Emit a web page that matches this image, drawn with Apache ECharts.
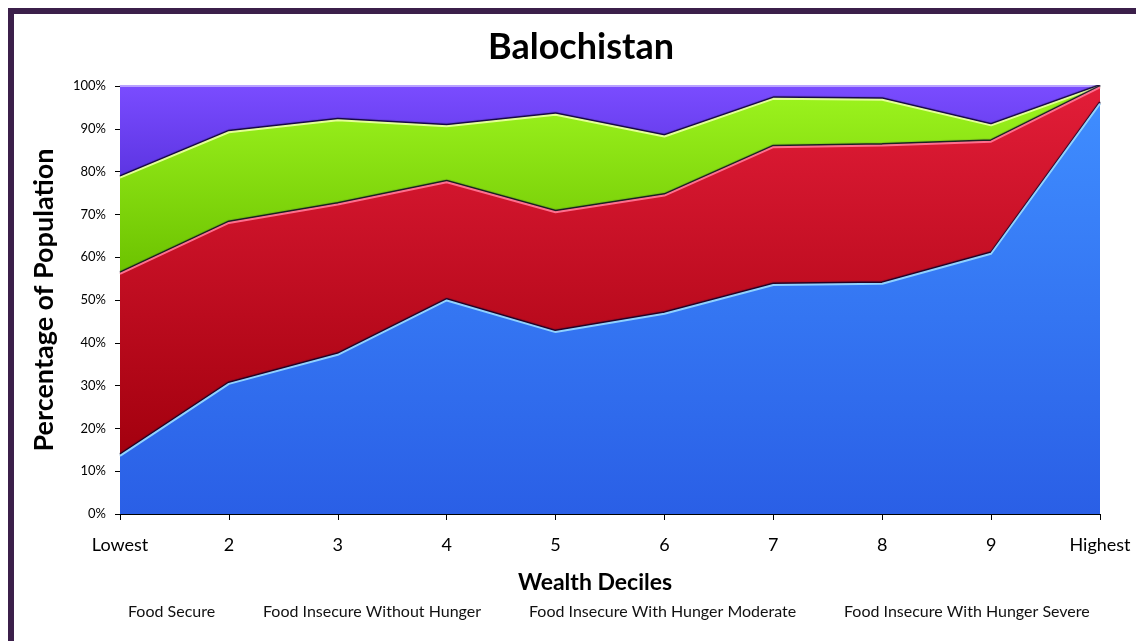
<!DOCTYPE html>
<html>
<head>
<meta charset="utf-8">
<script src="https://cdn.jsdelivr.net/npm/echarts@6/dist/echarts.min.js"></script>
<style>
html,body{margin:0;padding:0;background:#fff;}
#c{width:1136px;height:641px;}
</style>
</head>
<body>
<div id="c"></div>
<script>
const categories = ['Lowest','2','3','4','5','6','7','8','9','Highest'];
const foodSecure      = [13.6, 30.4, 37.2, 49.9, 42.5, 46.8, 53.5, 53.8, 60.8, 95.9];
const withoutHunger   = [42.5, 37.6, 35.1, 27.6, 28.0, 27.6, 32.2, 32.3, 26.2, 3.8];
const hungerModerate  = [22.5, 21.2, 19.7, 13.1, 22.8, 13.8, 11.3, 10.7, 3.8, 0.2];
const hungerSevere    = [21.4, 10.8, 8.0, 9.4, 6.7, 11.8, 3.0, 3.2, 9.2, 0.1];
const yTicks = [0,10,20,30,40,50,60,70,80,90,100];
const seriesNames = ['Food Secure','Food Insecure Without Hunger','Food Insecure With Hunger Moderate','Food Insecure With Hunger Severe'];

const FONT = 'Lato';
const chart = echarts.init(document.getElementById('c'));

function grad(top, bottom){
  return new echarts.graphic.LinearGradient(0,0,0,1,[{offset:0,color:top},{offset:1,color:bottom}]);
}
function mkSeries(name, data, topC, botC, hl, z){
  return {
    name, type:'line', stack:'total', data, symbol:'none', z,
    lineStyle:{color:hl, width:2, shadowColor:'rgba(10,0,40,0.95)', shadowBlur:1, shadowOffsetY:-1.5},
    areaStyle:{color:grad(topC, botC), opacity:1},
    itemStyle:{color:topC}
  };
}
const legendX = [127, 262, 528, 843];

chart.setOption({
  backgroundColor:'#ffffff',
  animation:false,
  title:{
    text:'Balochistan', left:576, top:24, textAlign:'center',
    textStyle:{fontFamily:FONT, fontWeight:'bold', fontSize:36, color:'#000'}
  },
  legend: seriesNames.map((n,i)=>({
    data:[n], left:legendX[i]-5, top:604, itemWidth:0, itemHeight:0, itemGap:0, padding:0,
    selectedMode:false,
    textStyle:{fontFamily:FONT, fontSize:16, color:'#111'}
  })),
  grid:{left:120, right:36, top:86, bottom:127},
  xAxis:{
    type:'category', data:categories, boundaryGap:false,
    name:'Wealth Deciles', nameLocation:'middle', nameGap:57,
    nameTextStyle:{fontFamily:FONT, fontWeight:'bold', fontSize:23, color:'#000', padding:[0,30,0,0]},
    axisLine:{lineStyle:{color:'#000', width:1}},
    axisTick:{length:6, lineStyle:{color:'#000'}, alignWithLabel:true},
    axisLabel:{fontFamily:FONT, fontSize:18, color:'#000', margin:22},
    splitLine:{show:false}
  },
  yAxis:{
    type:'value', min:0, max:100, interval:10,
    name:'Percentage of Population', nameLocation:'middle', nameGap:62, nameRotate:90,
    nameTextStyle:{fontFamily:FONT, fontWeight:'bold', fontSize:27, color:'#000'},
    axisLine:{show:true, lineStyle:{color:'#000', width:1}},
    axisTick:{show:true, length:5, lineStyle:{color:'#000'}},
    axisLabel:{fontFamily:FONT, fontSize:13, color:'#000', margin:14,
      formatter:v=> yTicks.includes(v) ? v+'%' : ''},
    splitLine:{show:false}
  },
  series:[
    mkSeries(seriesNames[0], foodSecure, '#3f8dff', '#2a5fe6', '#8fd2ff', 6),
    mkSeries(seriesNames[1], withoutHunger, '#e21d38', '#a3000e', '#ff6e8e', 5),
    mkSeries(seriesNames[2], hungerModerate, '#9ef51f', '#6cc200', '#e4ff96', 4),
    mkSeries(seriesNames[3], hungerSevere, '#7a4cff', '#5c34e2', '#b9a2ff', 3)
  ],
  graphic:[
    {type:'rect', shape:{x:8, y:8, width:1128, height:6}, style:{fill:'#3b1f4a'}, silent:true},
    {type:'rect', shape:{x:8, y:8, width:6, height:633}, style:{fill:'#3b1f4a'}, silent:true}
  ]
});
</script>
</body>
</html>
